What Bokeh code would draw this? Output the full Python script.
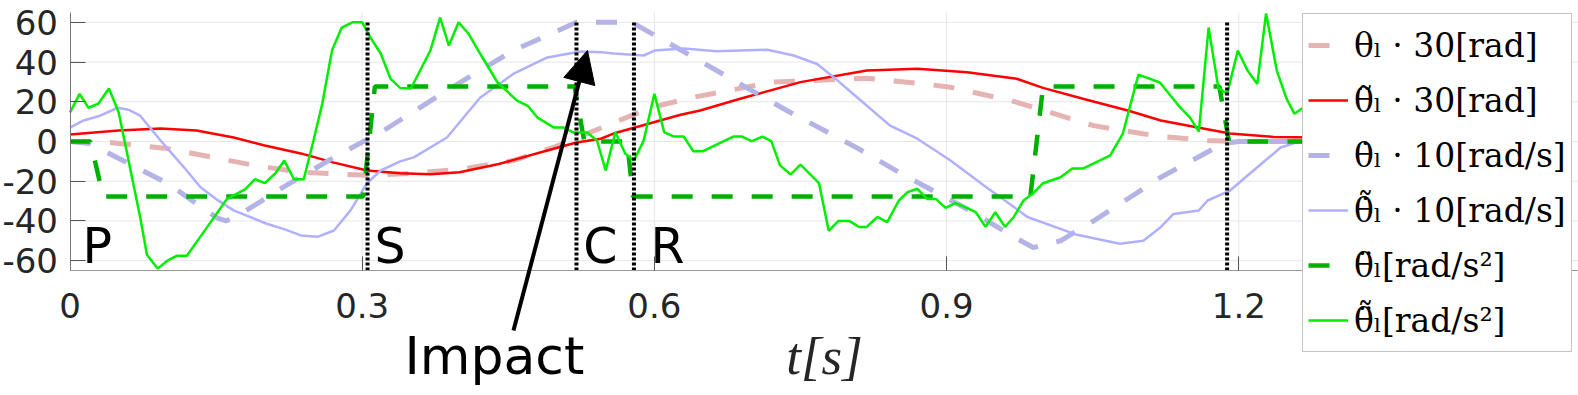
from bokeh.plotting import figure
from bokeh.models import (Range1d, FixedTicker, Legend, LegendItem, Label, Arrow,
                          NormalHead, ColumnDataSource)
from bokeh.embed import file_html
from bokeh.resources import INLINE
from bokeh.core.properties import value

# ---------------- data ----------------
t_theta = [0, 0.04, 0.1, 0.147, 0.189, 0.237, 0.305, 0.353, 0.404, 0.455, 0.496, 0.551,
           0.596, 0.64, 0.722, 0.818, 0.88, 0.904, 0.966, 0.993, 1.051, 1.1, 1.12, 1.168,
           1.2, 1.28]
theta_30 = [0, -0.5, -3.5, -8, -12, -15.5, -17, -16, -13.8, -9.6, -3, 8, 17, 22.3, 29.9,
            31.9, 28.8, 27.3, 20.6, 16.6, 8, 4, 2.5, 0.5, 0, 0]

t_theta_est = [0, 0.05, 0.093, 0.13, 0.168, 0.2, 0.237, 0.27, 0.305, 0.339, 0.37, 0.4,
               0.439, 0.49, 0.52, 0.545, 0.558, 0.627, 0.647, 0.688, 0.75, 0.818, 0.87,
               0.921, 0.972, 0.999, 1.04, 1.086, 1.12, 1.158, 1.191, 1.236, 1.28]
theta_est_30 = [3.5, 5.5, 6.5, 5.5, 2, -2, -6, -10.5, -14.6, -16, -16.5, -15.5, -11.5,
                -4.5, -0.5, 1.4, 4, 13.5, 15.6, 21.5, 29.9, 35.7, 36.6, 34.9, 31.6, 27,
                21.5, 15.6, 10.6, 7, 4, 2.3, 2]

t_dtheta = [0, 0.02, 0.1, 0.151, 0.16, 0.172, 0.219, 0.271, 0.322, 0.387, 0.455, 0.52,
            0.577, 0.613, 0.688, 0.736, 0.808, 0.853, 0.887, 0.921, 0.969, 0.989, 1.017,
            1.051, 1.12, 1.184, 1.2, 1.28]
dtheta_10 = [0, -1, -21, -38.5, -40, -37.5, -23, -8, 5.5, 25.7, 45.8, 60, 60, 50, 29,
             15.6, -3.2, -16, -25, -34, -48, -53.4, -50, -40, -18, -1, 0, 0]

t_dtheta_est = [0, 0.014, 0.031, 0.049, 0.06, 0.072, 0.093, 0.117, 0.134, 0.15, 0.168,
                0.202, 0.219, 0.237, 0.254, 0.271, 0.288, 0.305, 0.319, 0.339, 0.353,
                0.387, 0.421, 0.455, 0.49, 0.524, 0.545, 0.558, 0.589, 0.6, 0.63, 0.664,
                0.716, 0.743, 0.767, 0.784, 0.808, 0.842, 0.87, 0.904, 0.938, 0.972,
                0.983, 1.034, 1.078, 1.102, 1.12, 1.133, 1.159, 1.168, 1.191, 1.219,
                1.243, 1.265, 1.3]
dtheta_est_10 = [7, 10.6, 13, 17, 16, 13, 0.5, -13, -23, -29, -34.7, -41.4, -44, -47.3,
                 -48, -44.8, -34.7, -21, -14.6, -10, -8, 2, 22, 34, 42.3, 45.3, 45, 44.3,
                 43.3, 45.8, 46.8, 45.5, 46.2, 43.3, 39, 32.4, 22.3, 8, 1.4, -9.6, -22,
                 -34, -38, -47, -51.5, -50, -43, -36.5, -34.7, -29.7, -24.7, -13, -3, 0.5, 1]

t_ddtheta = [0, 0.021, 0.034, 0.301, 0.313, 0.518, 0.528, 0.572, 0.578, 0.986, 0.999,
             1.18, 1.19, 1.28]
ddtheta = [0, 0, -27.7, -27.7, 27.7, 27.7, 0, 0, -27.7, -27.7, 27.7, 27.7, 0, 0]

t_ddtheta_est = [0, 0.0098, 0.019, 0.029, 0.04, 0.05, 0.072, 0.079, 0.09, 0.1, 0.11, 0.12,
                 0.141, 0.161, 0.18, 0.19, 0.2, 0.211, 0.22, 0.23, 0.24, 0.25, 0.259,
                 0.269, 0.279, 0.29, 0.30, 0.309, 0.319, 0.329, 0.339, 0.35, 0.37, 0.38,
                 0.389, 0.399, 0.409, 0.421, 0.439, 0.459, 0.47, 0.48, 0.497, 0.507,
                 0.517, 0.531, 0.541, 0.55, 0.56, 0.57, 0.579, 0.589, 0.6, 0.61, 0.62,
                 0.63, 0.64, 0.65, 0.681, 0.69, 0.70, 0.711, 0.72, 0.729, 0.74, 0.75,
                 0.769, 0.779, 0.789, 0.8, 0.81, 0.818, 0.829, 0.839, 0.851, 0.86, 0.87,
                 0.88, 0.889, 0.899, 0.909, 0.919, 0.93, 0.94, 0.95, 0.96, 0.969, 0.979,
                 0.989, 0.999, 1.017, 1.029, 1.04, 1.068, 1.081, 1.089, 1.097, 1.119,
                 1.14, 1.15, 1.159, 1.169, 1.179, 1.188, 1.199, 1.209, 1.219, 1.228,
                 1.239, 1.249, 1.257, 1.265, 1.28]
ddtheta_est = [14.6, 24, 17, 19, 26.7, 14.6, -38, -57, -64, -60, -57.5, -57.5, -43, -29,
               -24, -19, -21, -16, -9.6, -19, -19, 0.5, 19, 45.8, 57.4, 60, 60, 51.9,
               44.3, 31.7, 27, 26.7, 45.8, 62.4, 48.3, 60, 54.4, 44.3, 29.7, 20.6, 18,
               12, 7, 7, 4.5, 4.5, 0.5, -14.6, 4.7, -6, -9.6, 0.5, 24, 4.7, 2.5, 2.5,
               -4.9, -4.9, 2.5, 2.5, 0.2, 2.5, 0.2, -12, -16.6, -11.6, -21, -45, -40,
               -40, -43, -43, -38, -40.6, -29.7, -25.5, -23.8, -28.9, -28.9, -33.4, -31,
               -33, -35.6, -43, -35.6, -43, -38, -29.7, -26, -21, -18, -13.6, -13.6, -7,
               4, 19, 33.7, 29.7, 17, 12, 5, 57.4, 27, 24, 45.8, 35.7, 29, 64.5, 35.7,
               21.6, 14, 16.6, 18]

phase_times = [0.3055, 0.52, 0.579, 1.188]

phase_labels = ["P", "S", "C", "R"]
phase_label_t = [0.0128, 0.3126, 0.527, 0.596]

x_ticks = [0, 0.3, 0.6, 0.9, 1.2]
x_tick_labels = ["0", "0.3", "0.6", "0.9", "1.2"]
y_ticks = [-60, -40, -20, 0, 20, 40, 60]
y_tick_labels = ["-60", "-40", "-20", "0", "20", "40", "60"]

legend_labels = [
    "\u03b8\u2097 \u00b7 30[rad]",
    "\u03b8\u0303\u2097 \u00b7 30[rad]",
    "\u03b8\u0307\u2097 \u00b7 10[rad/s]",
    "\u03b8\u0307\u0303\u2097 \u00b7 10[rad/s]",
    "\u03b8\u0308\u2097[rad/s\u00b2]",
    "\u03b8\u0308\u0303\u2097[rad/s\u00b2]",
]

impact_text = "Impact"

# ---------------- layout constants (positions, not data) ----------------
FIG_W, FIG_H = 1578, 395
PX_PER_X = 974.0              # screen px per second
PX_PER_Y = 1.986              # screen px per unit
AXIS_LEFT_PX = 69.5           # screen x of t = 0
ZERO_Y_PX = 141.0             # screen y of value 0
Y_LO, Y_HI = -65, 65          # visible axes box
X_LO = -AXIS_LEFT_PX / PX_PER_X
X_HI = (FIG_W - AXIS_LEFT_PX) / PX_PER_X
Y_FRAME_HI = ZERO_Y_PX / PX_PER_Y
Y_FRAME_LO = (ZERO_Y_PX - FIG_H) / PX_PER_Y
phase_line_bottom, phase_line_top = -65, 60
phase_label_y = -52.8
impact_text_pos = (0.3434, -108.0)
impact_arrow_start = (0.4553, -95.2)
impact_arrow_end = (0.5313, 45.8)

LEG_LEFT_PX, LEG_TOP_PX = 1302, 15
LEG_PAD, LEG_ITEM_H, LEG_SPACING = 5, 52, 3
LEG_H = 2 * LEG_PAD + len(legend_labels) * LEG_ITEM_H + (len(legend_labels) - 1) * LEG_SPACING

# ---------------- figure ----------------
p = figure(width=FIG_W, height=FIG_H, title=None,
           x_range=Range1d(X_LO, X_HI), y_range=Range1d(Y_FRAME_LO, Y_FRAME_HI),
           output_backend="svg", toolbar_location=None,
           min_border_left=0, min_border_right=0, min_border_top=0,
           min_border_bottom=0)
p.outline_line_color = None
p.background_fill_color = "white"
p.border_fill_color = "white"

for ax in (p.xaxis[0], p.yaxis[0]):
    ax.major_label_text_font = "DejaVu Sans"
    ax.major_label_text_font_size = "34px"
    ax.major_label_text_color = "#262626"
    ax.major_tick_out = 0
    ax.minor_tick_in = 0
    ax.minor_tick_out = 0
    ax.major_tick_line_color = "#555555"

p.xaxis.fixed_location = Y_LO
p.xaxis.bounds = (0, X_HI)
p.xaxis.ticker = FixedTicker(ticks=x_ticks)
p.xaxis.major_label_overrides = dict(zip(x_ticks, x_tick_labels))
p.xaxis.major_tick_in = 14
p.xaxis.major_label_standoff = 22
p.xaxis.axis_line_color = "#999999"
p.xaxis.axis_label = "t[s]"
p.xaxis.axis_label_text_font = "Liberation Serif"
p.xaxis.axis_label_text_font_style = "italic"
p.xaxis.axis_label_text_font_size = "53px"
p.xaxis.axis_label_text_color = "#262626"
p.xaxis.axis_label_standoff = 6

p.yaxis.fixed_location = 0
p.yaxis.bounds = (Y_LO, Y_HI)
p.yaxis.ticker = FixedTicker(ticks=y_ticks)
p.yaxis.major_label_overrides = dict(zip(y_ticks, y_tick_labels))
p.yaxis.major_tick_in = 15
p.yaxis.major_label_standoff = 12
p.yaxis.axis_line_color = "#777777"

# grid limited to the axes box
p.xgrid.visible = False
p.ygrid.visible = False
grid_x = x_ticks[1:]
p.segment(x0=grid_x, x1=grid_x, y0=[Y_LO] * len(grid_x), y1=[Y_HI] * len(grid_x),
          line_color="#e6e6e6", line_width=1, level="underlay")
p.segment(x0=[0] * len(y_ticks), x1=[X_HI] * len(y_ticks), y0=y_ticks, y1=y_ticks,
          line_color="#e6e6e6", line_width=1, level="underlay")

r1 = p.line(t_theta, theta_30, line_color="#e6b3b3", line_width=5, line_dash="21 19")
r2 = p.line(t_theta_est, theta_est_30, line_color="#ff0000", line_width=2.5)
r3 = p.line(t_dtheta, dtheta_10, line_color="#b3b3e6", line_width=5, line_dash="21 19")
r4 = p.line(t_dtheta_est, dtheta_est_10, line_color="#b0b0ff", line_width=2.5)
r5 = p.line(t_ddtheta, ddtheta, line_color="#00b000", line_width=4.5, line_dash="21 19")
r6 = p.line(t_ddtheta_est, ddtheta_est, line_color="#00ee00", line_width=2.5)

p.segment(x0=phase_times, x1=phase_times,
          y0=[phase_line_bottom] * len(phase_times), y1=[phase_line_top] * len(phase_times),
          line_color="black", line_width=4, line_dash="3 2")

src = ColumnDataSource(dict(x=phase_label_t, y=[phase_label_y] * len(phase_labels),
                            text=phase_labels))
p.text(x="x", y="y", text="text", source=src, text_font=value("DejaVu Sans"),
       text_font_size="49px", text_color="black", text_baseline="alphabetic",
       text_align="left")

p.add_layout(Label(x=impact_text_pos[0], y=impact_text_pos[1], text=impact_text,
                   text_font="DejaVu Sans", text_font_size="52px", text_color="black",
                   text_baseline="alphabetic", text_align="left"))
p.add_layout(Arrow(x_start=impact_arrow_start[0], y_start=impact_arrow_start[1],
                   x_end=impact_arrow_end[0], y_end=impact_arrow_end[1],
                   line_width=4, line_color="black",
                   end=NormalHead(size=32, line_color="black", fill_color="black")))

renderers = [r1, r2, r3, r4, r5, r6]
legend = Legend(items=[LegendItem(label=lab, renderers=[r]) for lab, r in zip(legend_labels, renderers)],
                location=(LEG_LEFT_PX, FIG_H - LEG_TOP_PX - LEG_H), margin=0,
                padding=LEG_PAD, spacing=LEG_SPACING,
                label_height=LEG_ITEM_H, glyph_height=LEG_ITEM_H, glyph_width=40,
                label_standoff=6,
                label_text_font="DejaVu Serif", label_text_font_size="33px",
                label_text_color="black",
                border_line_color="#888888", border_line_width=1,
                background_fill_color="white", background_fill_alpha=1.0)
p.add_layout(legend)

open("out.html", "w").write(file_html(p, INLINE))
